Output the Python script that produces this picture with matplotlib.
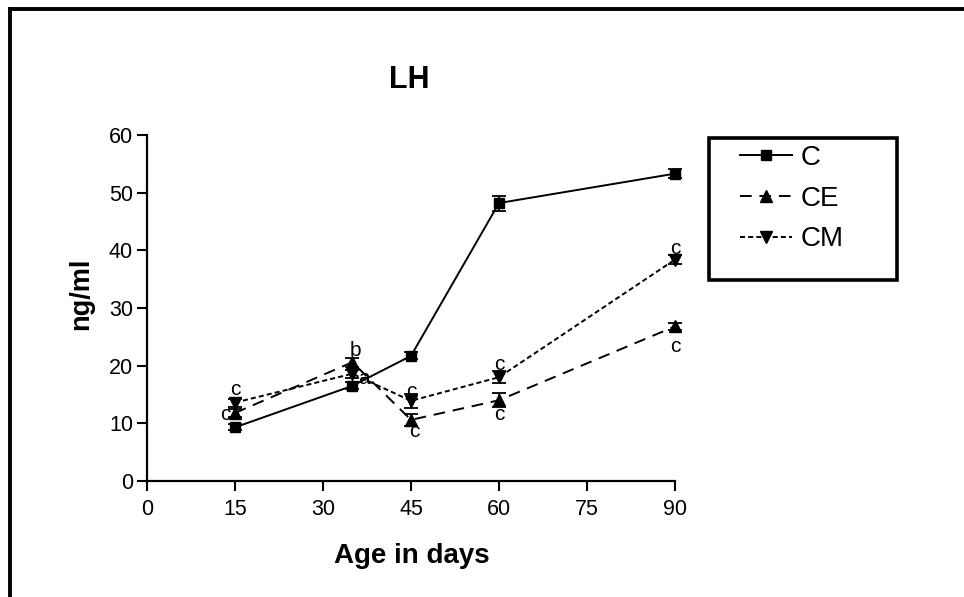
import matplotlib
matplotlib.use("Agg")
import matplotlib.pyplot as plt
from matplotlib.lines import Line2D
from matplotlib.patches import Rectangle

plt.rcParams['font.family'] = ['Liberation Sans', 'DejaVu Sans']

days = [15, 35, 45, 60, 90]
c_vals = [9.3, 16.5, 21.7, 48.2, 53.3]
c_err = [0.5, 0.6, 0.6, 1.3, 0.8]
ce_vals = [11.8, 20.6, 10.6, 14.0, 26.8]
ce_err = [0.7, 0.8, 1.0, 1.2, 0.6]
cm_vals = [13.6, 18.6, 13.9, 18.0, 38.4]
cm_err = [0.7, 0.7, 1.2, 1.0, 0.8]

# significance letters: (x, y, text)
letters_x = [15, 13.3, 35.5, 37.0, 45, 45.5, 60, 60, 90, 90]
letters_y = [15.8, 11.6, 22.7, 17.7, 15.6, 8.6, 20.2, 11.6, 40.3, 23.4]
letters_t = ['c', 'c', 'b', 'a', 'c', 'c', 'c', 'c', 'c', 'c']

xticks = [0, 15, 30, 45, 60, 75, 90]
yticks = [0, 10, 20, 30, 40, 50, 60]

W, H = 964, 597
fig = plt.figure(figsize=(W / 100, H / 100), dpi=100)

ax = fig.add_axes([147 / W, 1 - 481 / H, (675 - 147) / W, (481 - 135) / H])
ax.set_xlim(0, 90)
ax.set_ylim(0, 60)
ax.set_xticks(xticks)
ax.set_yticks(yticks)
for s in ['top', 'right']:
    ax.spines[s].set_visible(False)
for s in ['left', 'bottom']:
    ax.spines[s].set_linewidth(1.6)
ax.tick_params(direction='out', length=7, width=1.5, labelsize=15.5, pad=3)
ax.tick_params(axis='x', pad=6)

kw = dict(color='black', ecolor='black', capsize=5, elinewidth=1.3,
          capthick=1.3, clip_on=False, lw=1.4)
ax.errorbar(days, c_vals, yerr=c_err, marker='s', ms=7.5, ls='-', **kw)
ax.errorbar(days, ce_vals, yerr=ce_err, marker='^', ms=8.5, ls=(0, (6, 4)), **kw)
ax.errorbar(days, cm_vals, yerr=cm_err, marker='v', ms=8.5, ls=(0, (2.6, 1.6)), **kw)

for x, y, t in zip(letters_x, letters_y, letters_t):
    ax.text(x, y, t, ha='center', va='center', fontsize=15)

fig.text(409 / W, 1 - 80 / H, 'LH', ha='center', va='center',
         fontsize=22, fontweight='bold')
fig.text(412 / W, 1 - 556 / H, 'Age in days', ha='center', va='center',
         fontsize=20, fontweight='bold')
fig.text(81 / W, 1 - 294 / H, 'ng/ml', ha='center', va='center',
         rotation=90, fontsize=19.5, fontweight='bold')

# legend box
fig.patches.append(Rectangle((709 / W, 1 - 280 / H), (897 - 709) / W, (280 - 138) / H,
                             transform=fig.transFigure, fill=False, lw=2.6,
                             edgecolor='black'))
handles = [
    Line2D([], [], color='black', marker='s', ms=7, ls='-', lw=1.4),
    Line2D([], [], color='black', marker='^', ms=8, ls=(0, (6, 4)), lw=1.4),
    Line2D([], [], color='black', marker='v', ms=8, ls=(0, (2.6, 1.6)), lw=1.4),
]
fig.legend(handles, ['C', 'CE', 'CM'], loc='upper left',
           bbox_to_anchor=(740 / W, 1 - 145 / H), frameon=False,
           fontsize=20, handlelength=1.87, handletextpad=0.3,
           labelspacing=0.53, borderpad=0, borderaxespad=0)

# outer frame (top and left)
fig.lines.append(Line2D([10 / W, 1.0], [1 - 9 / H, 1 - 9 / H],
                        transform=fig.transFigure, color='black', lw=2.8))
fig.lines.append(Line2D([10 / W, 10 / W], [1 - 9 / H, 0],
                        transform=fig.transFigure, color='black', lw=2.8))

fig.savefig('out.png', dpi=100)
